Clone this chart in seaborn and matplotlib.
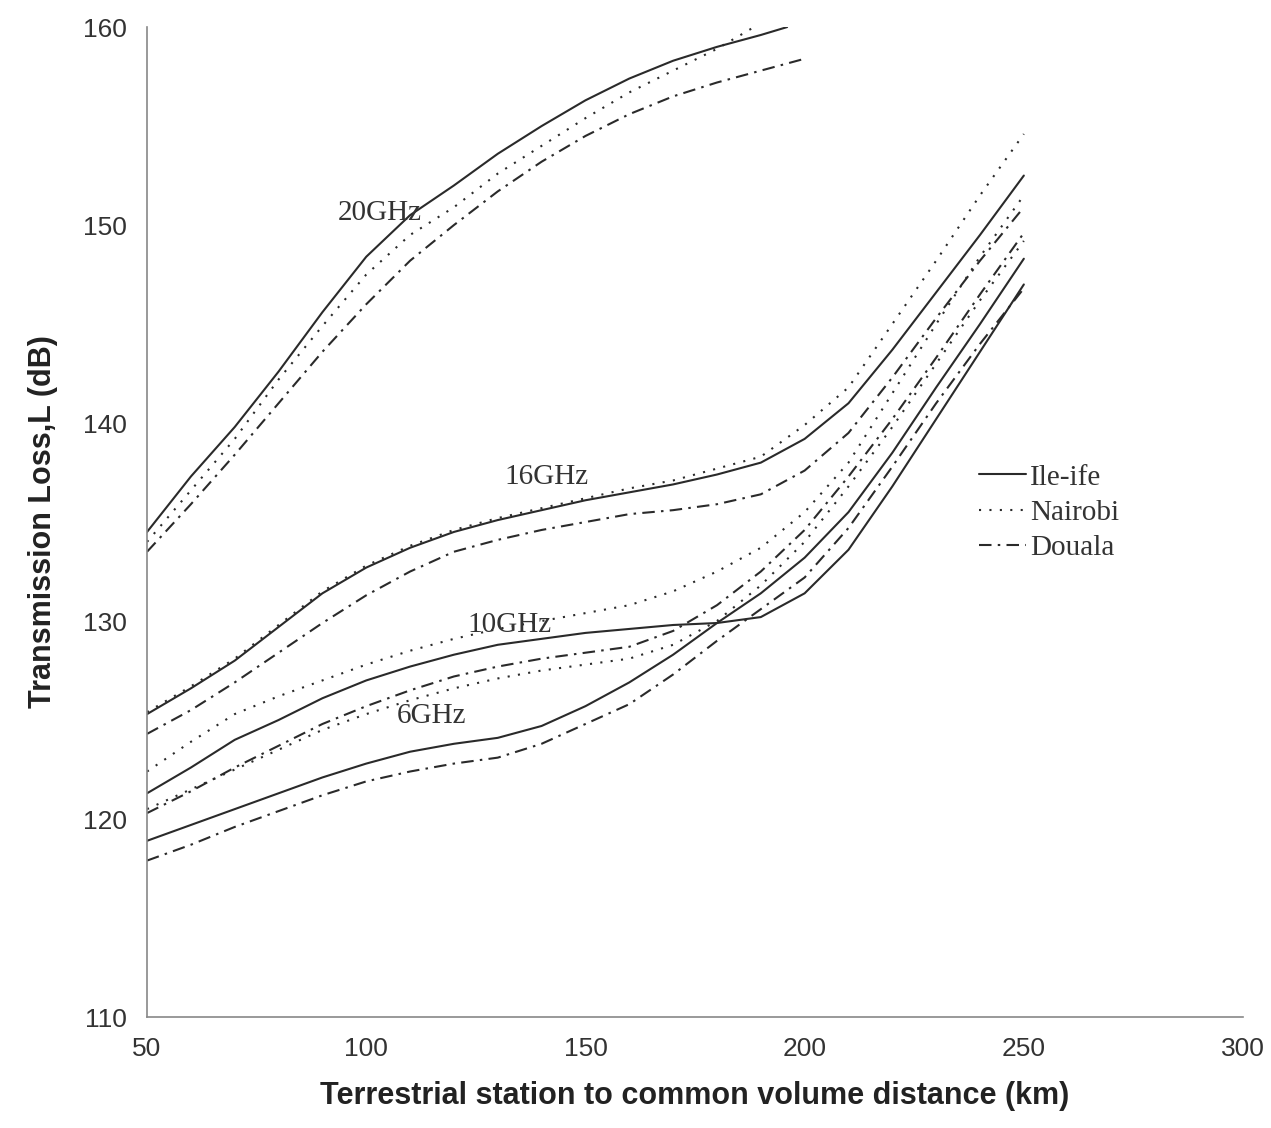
import matplotlib
matplotlib.use('Agg')
import matplotlib.pyplot as plt
import seaborn as sns

# DISTANCES (km)
dist = [50, 60, 70, 80, 90, 100, 110, 120, 130, 140, 150,
        160, 170, 180, 190, 200, 210, 220, 230, 240, 250]
dist_20_ile = [50, 60, 70, 80, 90, 100, 110, 120, 130, 140, 150, 160, 170, 180, 190, 196]
dist_20_nai = [50, 60, 70, 80, 90, 100, 110, 120, 130, 140, 150, 160, 170, 180, 190]
dist_20_dou = [50, 60, 70, 80, 90, 100, 110, 120, 130, 140, 150, 160, 170, 180, 190, 200]

# 20GHz
loss_20_ile = [134.5, 137.3, 139.8, 142.6, 145.6, 148.4, 150.5, 152.0, 153.6, 155.0,
               156.3, 157.4, 158.3, 159.0, 159.6, 160.0]
loss_20_nai = [134.0, 136.6, 139.2, 142.2, 144.9, 147.5, 149.5, 150.9, 152.6, 154.0,
               155.4, 156.7, 157.8, 158.9, 160.2]
loss_20_dou = [133.5, 135.9, 138.4, 141.0, 143.6, 146.0, 148.2, 150.0, 151.7, 153.2,
               154.5, 155.6, 156.5, 157.2, 157.8, 158.4]

# 16GHz
loss_16_ile = [125.3, 126.6, 128.0, 129.7, 131.4, 132.7, 133.7, 134.5, 135.1, 135.6, 136.1,
               136.5, 136.9, 137.4, 138.0, 139.2, 141.0, 143.7, 146.6, 149.5, 152.5]
loss_16_nai = [125.4, 126.7, 128.1, 129.8, 131.5, 132.8, 133.8, 134.6, 135.2, 135.7, 136.2,
               136.7, 137.1, 137.7, 138.3, 139.9, 141.8, 145.0, 148.2, 151.5, 154.6]
loss_16_dou = [124.3, 125.5, 126.9, 128.4, 129.9, 131.3, 132.5, 133.5, 134.1, 134.6, 135.0,
               135.4, 135.6, 135.9, 136.4, 137.6, 139.5, 142.3, 145.3, 148.2, 150.9]

# 10GHz
loss_10_ile = [121.3, 122.6, 124.0, 125.0, 126.1, 127.0, 127.7, 128.3, 128.8, 129.1, 129.4,
               129.6, 129.8, 129.9, 130.2, 131.4, 133.6, 136.8, 140.2, 143.6, 147.0]
loss_10_nai = [122.4, 123.9, 125.3, 126.2, 127.0, 127.8, 128.5, 129.1, 129.6, 130.0, 130.4,
               130.8, 131.5, 132.5, 133.7, 135.5, 138.0, 141.5, 145.0, 148.4, 151.5]
loss_10_dou = [120.3, 121.4, 122.6, 123.7, 124.8, 125.7, 126.5, 127.2, 127.7, 128.1, 128.4,
               128.7, 129.5, 130.8, 132.5, 134.6, 137.3, 140.2, 143.3, 146.5, 149.6]

# 6GHz
loss_6_ile = [118.9, 119.7, 120.5, 121.3, 122.1, 122.8, 123.4, 123.8, 124.1, 124.7, 125.7,
              126.9, 128.3, 129.9, 131.4, 133.2, 135.5, 138.5, 141.8, 145.0, 148.3]
loss_6_nai = [120.5, 121.5, 122.5, 123.5, 124.5, 125.3, 126.0, 126.6, 127.1, 127.5, 127.8,
              128.1, 128.8, 130.0, 131.8, 134.0, 136.8, 139.8, 143.0, 146.2, 149.2]
loss_6_dou = [117.9, 118.7, 119.6, 120.4, 121.2, 121.9, 122.4, 122.8, 123.1, 123.8, 124.8,
              125.8, 127.3, 129.0, 130.6, 132.2, 134.7, 137.8, 141.0, 144.0, 146.8]

sites = ['Ile-ife', 'Nairobi', 'Douala']
freq_labels = ['20GHz', '16GHz', '10GHz', '6GHz']
label_pos = [(93.5, 150.6), (131.5, 137.3), (123.0, 129.8), (107.0, 125.2)]

series = [
    (dist_20_ile, loss_20_ile, 'Ile-ife'), (dist_20_nai, loss_20_nai, 'Nairobi'), (dist_20_dou, loss_20_dou, 'Douala'),
    (dist, loss_16_ile, 'Ile-ife'), (dist, loss_16_nai, 'Nairobi'), (dist, loss_16_dou, 'Douala'),
    (dist, loss_10_ile, 'Ile-ife'), (dist, loss_10_nai, 'Nairobi'), (dist, loss_10_dou, 'Douala'),
    (dist, loss_6_ile, 'Ile-ife'), (dist, loss_6_nai, 'Nairobi'), (dist, loss_6_dou, 'Douala'),
]

styles = {
    'Ile-ife': '-',
    'Nairobi': (0, (1, 4)),
    'Douala': (0, (6, 3, 1.2, 3)),
}

sns.set_style('white')
plt.rcParams['font.family'] = ['Liberation Sans', 'DejaVu Sans']

fig = plt.figure(figsize=(12.71, 11.28), dpi=100)
ax = fig.add_axes([0.1157, 0.0984, 0.8623, 0.8776])

line_color = '#2a2a2a'
for x, y, site in series:
    sns.lineplot(x=x, y=y, ax=ax, color=line_color, linestyle=styles[site],
                 linewidth=1.5, estimator=None, sort=False, legend=False)

# FREQUENCY LABELS
for txt, (lx, ly) in zip(freq_labels, label_pos):
    ax.text(lx, ly, txt, family='Liberation Serif', fontsize=21, color='#333333',
            ha='left', va='center')

# LEGEND
handles = [plt.Line2D([], [], color=line_color, linestyle=styles[s], linewidth=1.5) for s in sites]
leg = ax.legend(handles, sites, loc='upper left', bbox_to_anchor=(0.735, 0.585), frameon=False,
                prop={'family': 'Liberation Serif', 'size': 21}, handlelength=1.6,
                handletextpad=0.15, labelspacing=0.3)
for t in leg.get_texts():
    t.set_color('#333333')

ax.set_xlim(50, 300)
ax.set_ylim(110, 160)
ax.set_xticks([50, 100, 150, 200, 250, 300])
ax.set_yticks([110, 120, 130, 140, 150, 160])
ax.tick_params(axis='both', labelsize=19, colors='#333333', length=5, width=1,
               direction='inout')
ax.tick_params(axis='x', pad=12)
ax.tick_params(axis='y', pad=12)

ax.set_xlabel('Terrestrial station to common volume distance (km)', fontsize=22,
              fontweight='bold', color='#222222', labelpad=14)
ax.set_ylabel('Transmission Loss,L (dB)', fontsize=22, fontweight='bold',
              color='#222222', labelpad=18)

sns.despine(ax=ax)
for s in ['left', 'bottom']:
    ax.spines[s].set_color('#888888')
    ax.spines[s].set_linewidth(1.2)

fig.savefig('out.png', dpi=100, facecolor='white')
